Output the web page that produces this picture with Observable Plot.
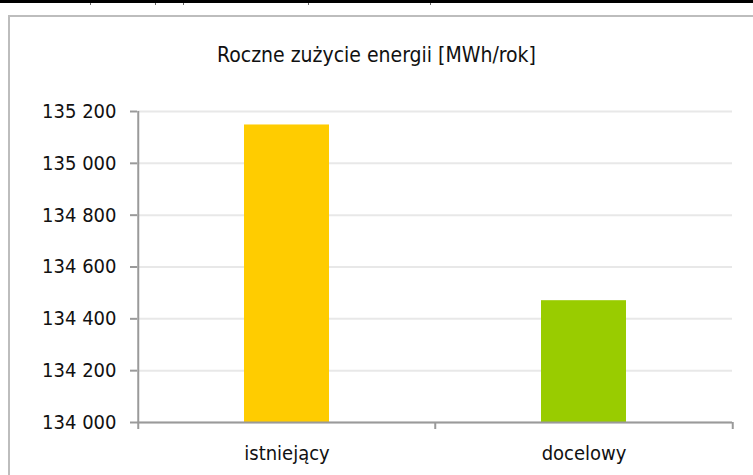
<!DOCTYPE html>
<html>
<head>
<meta charset="utf-8">
<script src="https://cdn.jsdelivr.net/npm/d3@7"></script>
<script src="https://cdn.jsdelivr.net/npm/@observablehq/plot@0.6"></script>
<style>
  html, body { margin: 0; padding: 0; background: #fff; }
  #wrap { position: relative; width: 753px; height: 475px; overflow: hidden; background: #fff;
          font-family: "DejaVu Sans Condensed", "DejaVu Sans", sans-serif; }
  #topline { position: absolute; left: 0; top: 0; width: 753px; height: 3px; background: #000; }
  .tmark { position: absolute; top: 3px; width: 1px; height: 2px; background: #666; }
  #box { position: absolute; left: 8px; top: 15px; width: 800px; height: 500px;
         border: 2px solid #bdbdbd; box-sizing: border-box; }
  #title { position: absolute; left: 0; width: 753px; top: 45px; text-align: center;
           font-size: 21px; line-height: 21px; color: #111; }
  #chart { position: absolute; left: 0; top: 0; }
</style>
</head>
<body>
<div id="wrap">
  <div id="topline"></div>
  <div class="tmark" style="left:90px"></div>
  <div class="tmark" style="left:155px"></div>
  <div class="tmark" style="left:183px"></div>
  <div class="tmark" style="left:308px"></div>
  <div class="tmark" style="left:430px"></div>
  <div id="box"></div>
  <div id="title">Roczne zużycie energii [MWh/rok]</div>
  <div id="chart"></div>
</div>
<script>
const categories = ["istniejący", "docelowy"];
const values = [135148, 134470];
const colors = ["#FFCC00", "#99CC00"];
const yTicks = [134000, 134200, 134400, 134600, 134800, 135000, 135200];
const yDomain = [134000, 135200];

const data = categories.map((c, i) => ({cat: c, value: values[i], color: colors[i]}));
const fmt = d3.formatLocale({thousands: " ", grouping: [3], decimal: ",", currency: ["", ""]}).format(",");

const W = 753, H = 475, mL = 137, mR = 21, mT = 111, mB = 53;
const step = (W - mL - mR) / categories.length;
const axisColor = "#9a9a9a";

const chart = Plot.plot({
  width: W, height: H,
  marginLeft: mL, marginRight: mR, marginTop: mT, marginBottom: mB,
  style: {fontFamily: '"DejaVu Sans Condensed", "DejaVu Sans", sans-serif', fontSize: "20px", color: "#111", background: "transparent", overflow: "visible"},
  x: {domain: categories, padding: 0, label: null},
  y: {domain: yDomain, label: null},
  marks: [
    Plot.gridY(yTicks, {stroke: "#e8e8e8", strokeOpacity: 1, strokeWidth: 2}),
    Plot.barY(data, {x: "cat", y1: yDomain[0], y2: "value", fill: "color", insetLeft: 106, insetRight: 106}),
    Plot.ruleY([yDomain[0]], {stroke: axisColor, strokeWidth: 2}),
    Plot.ruleX([categories[0]], {dx: -step / 2, stroke: axisColor, strokeWidth: 2}),
    Plot.axisX(categories, {tickSize: 7, text: null, dx: -step / 2, stroke: axisColor, strokeWidth: 2}),
    Plot.axisX([categories[categories.length - 1]], {tickSize: 7, text: null, dx: step / 2, stroke: axisColor, strokeWidth: 2}),
    Plot.axisX(categories, {tickSize: 0, tickPadding: 23, label: null, fill: "#111"}),
    Plot.axisY(yTicks, {tickSize: 7, tickPadding: 14, tickFormat: fmt, stroke: axisColor, strokeWidth: 2, label: null, fill: "#111"})
  ]
});
document.getElementById("chart").appendChild(chart);
</script>
</body>
</html>
